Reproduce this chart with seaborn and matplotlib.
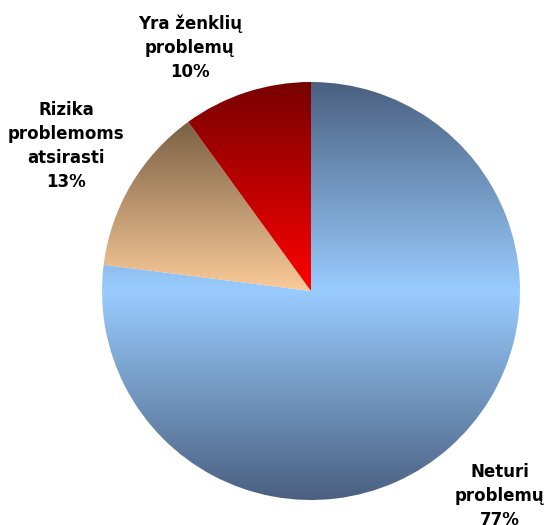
import numpy as np
import matplotlib
matplotlib.use("Agg")
import matplotlib.pyplot as plt
import seaborn as sns

# Survey shares (percent)
categories = ["Neturi\nproblemų", "Rizika\nproblemoms\natsirasti", "Yra ženklių\nproblemų"]
shares = [77, 13, 10]

# Vertical gradient stops per slice (top -> bottom)
gradient_stops = [
    ["#4A6080", "#99CCFF", "#4A6080"],
    ["#7A6044", "#FBCB99"],
    ["#780000", "#FF0000"],
]

sns.set_theme(style="white")
plt.rcParams["font.family"] = ["DejaVu Sans"]

W, H = 546, 525
fig = plt.figure(figsize=(W / 100, H / 100), dpi=100)
ax = fig.add_axes([0, 0, 1, 1])
ax.set_xlim(0, W)
ax.set_ylim(0, H)
ax.axis("off")

center = (311, H - 291)
radius = 209

# Label anchors (figure pixels from the top-left)
label_pos = [(500, 496), (66, 146), (190, 48)]

labels = [f"{c}\n{v}%" for c, v in zip(categories, shares)]
wedges, texts = ax.pie(
    shares, labels=labels, startangle=90, counterclock=False,
    center=center, radius=radius, labeldistance=1.33,
    wedgeprops=dict(linewidth=0, edgecolor="none"),
    textprops=dict(fontsize=12, fontweight="bold", color="black",
                   linespacing=1.42),
    frame=True,
)

for t, (px, py) in zip(texts, label_pos):
    t.set_position((px, H - py))
    t.set_ha("center")
    t.set_va("center")
    t.set_multialignment("center")

# Fill each slice with its own vertical gradient, clipped to the slice
for w, stops in zip(wedges, gradient_stops):
    ext = w.get_path().get_extents()
    cols = np.array(sns.blend_palette(stops, n_colors=256, as_cmap=False))
    img = cols[::-1][:, None, :]  # row 0 at the bottom with origin='lower'
    im = ax.imshow(img, extent=[ext.x0, ext.x1, ext.y0, ext.y1],
                   origin="lower", aspect="auto", interpolation="bilinear",
                   zorder=w.get_zorder())
    im.set_clip_path(w)
    w.set_facecolor("none")

ax.set_xlim(0, W)
ax.set_ylim(0, H)
ax.set_aspect("equal")
ax.axis("off")

fig.savefig("out.png", dpi=100, facecolor="white")
